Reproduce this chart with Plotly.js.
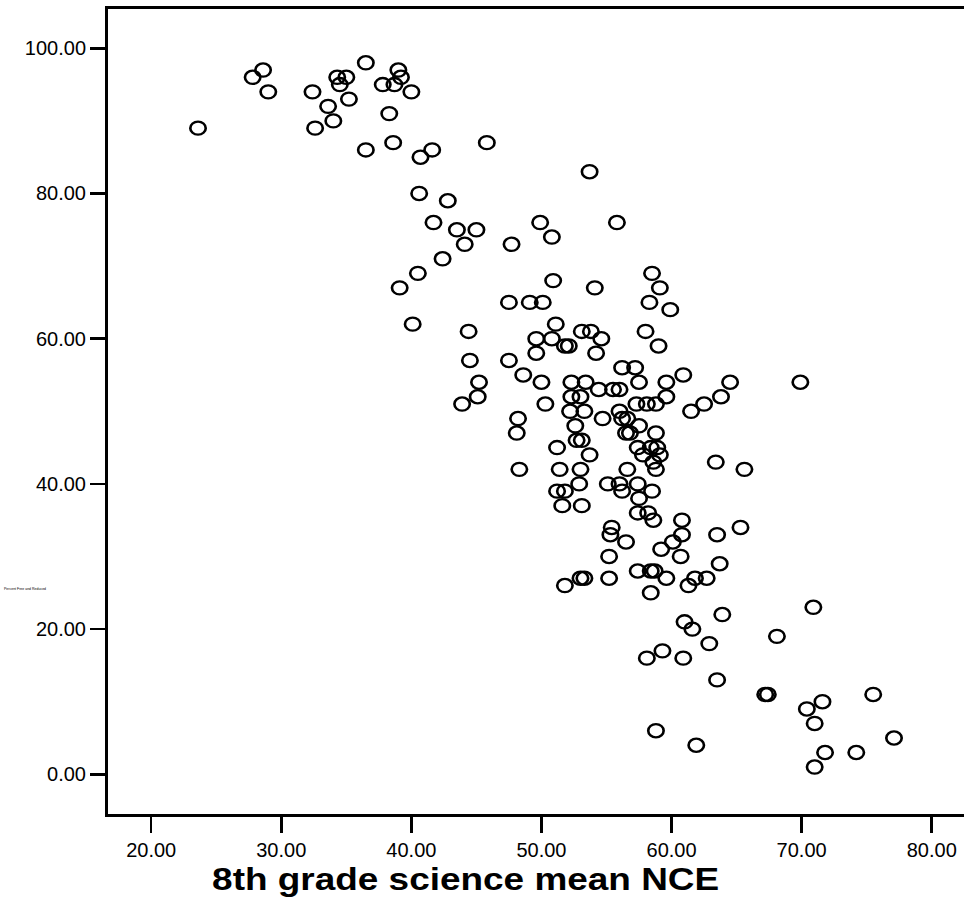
<!DOCTYPE html>
<html>
<head>
<meta charset="utf-8">
<script src="https://cdn.plot.ly/plotly-3.0.1.min.js"></script>
<style>html,body{margin:0;padding:0;background:#fff;}#chart{width:964px;height:899px;}</style>
</head>
<body>
<div id="chart"></div>
<script>
// 8th grade science mean NCE (x) vs Percent Free and Reduced (y)
const scienceNCE = [
23.6,27.8,28.6,29.0,32.4,32.6,33.6,34.0,34.3,34.5,35.0,35.2,36.5,36.5,37.8,38.3,38.6,38.7,39.0,39.2,
40.0,40.7,41.6,40.6,42.8,41.7,43.5,45.0,44.1,45.8,49.9,50.8,47.7,42.4,40.5,39.1,40.1,44.4,44.5,45.2,
45.1,43.9,47.5,49.1,50.1,50.9,47.5,48.6,49.6,49.6,50.8,50.0,50.3,48.2,48.1,51.1,54.1,58.5,59.1,58.3,
59.9,58.0,59.0,51.8,52.1,53.1,53.8,54.6,54.2,48.3,56.2,57.2,60.9,52.3,53.4,57.5,59.6,64.5,69.9,54.4,
55.5,56.0,52.3,53.0,59.6,63.8,52.2,53.3,57.3,58.1,58.8,62.5,61.5,56.0,54.7,56.2,56.6,52.6,57.5,56.5,
56.8,58.8,52.7,53.1,51.2,57.4,58.4,58.9,53.7,57.8,59.1,58.6,63.4,51.4,53.0,56.6,58.8,65.6,52.9,55.1,
56.0,57.4,51.2,51.8,56.2,58.5,57.5,51.6,53.1,57.4,58.2,58.6,60.8,55.4,55.3,65.3,60.8,63.5,56.5,60.1,
59.2,55.2,60.7,63.7,57.4,58.4,58.7,53.0,53.3,55.2,59.6,61.8,62.7,51.8,61.3,58.4,63.9,61.0,61.6,68.1,
62.9,59.3,58.1,60.9,63.5,67.2,67.4,70.9,75.5,71.6,70.4,71.0,58.8,77.1,61.9,71.8,74.2,71.0,53.7,55.8
];
const pctFreeReduced = [
89,96,97,94,94,89,92,90,96,95,96,93,98,86,95,91,87,95,97,96,
94,85,86,80,79,76,75,75,73,87,76,74,73,71,69,67,62,61,57,54,
52,51,65,65,65,68,57,55,60,58,60,54,51,49,47,62,67,69,67,65,
64,61,59,59,59,61,61,60,58,42,56,56,55,54,54,54,54,54,54,53,
53,53,52,52,52,52,50,50,51,51,51,51,50,50,49,49,49,48,48,47,
47,47,46,46,45,45,45,45,44,44,44,43,43,42,42,42,42,42,40,40,
40,40,39,39,39,39,38,37,37,36,36,35,35,34,33,34,33,33,32,32,
31,30,30,29,28,28,28,27,27,27,27,27,27,26,26,25,22,21,20,19,
18,17,16,16,13,11,11,23,11,10,9,7,6,5,4,3,3,1,83,76
];
const xTickVals = [20,30,40,50,60,70,80];
const xTickText = ["20.00","30.00","40.00","50.00","60.00","70.00","80.00"];
const yTickVals = [0,20,40,60,80,100];
const yTickText = ["0.00","20.00","40.00","60.00","80.00","100.00"];
const xTitle = "8th grade science mean NCE";
const yTitle = "Percent Free and Reduced";

const trace = {
  type: "scatter",
  mode: "markers",
  x: scienceNCE,
  y: pctFreeReduced,
  marker: {symbol: "circle-open", size: 14, color: "#000", line: {color: "#000", width: 2.4}},
  hoverinfo: "x+y"
};

const layout = {
  width: 964, height: 899,
  margin: {l: 108, r: 0, t: 9, b: 85, pad: 0},
  paper_bgcolor: "#fff", plot_bgcolor: "#fff",
  showlegend: false,
  font: {family: "Liberation Sans, Arial, sans-serif", color: "#000"},
  xaxis: {
    range: [16.68, 82.48], tickvals: xTickVals, ticktext: xTickText,
    showgrid: false, zeroline: false, showline: true, mirror: true,
    linecolor: "#000", linewidth: 3, ticks: "outside", ticklen: 16, tickwidth: 2.5, tickcolor: "#000",
    tickfont: {size: 20, family: "Liberation Sans, Arial, sans-serif", color: "#000"}
  },
  yaxis: {
    range: [-5.47, 105.41], tickvals: yTickVals, ticktext: yTickText,
    showgrid: false, zeroline: false, showline: true,
    linecolor: "#000", linewidth: 3, ticks: "outside", ticklen: 15, tickwidth: 2.5, tickcolor: "#000",
    tickfont: {size: 20, family: "Liberation Sans, Arial, sans-serif", color: "#000"}
  },
  annotations: [
    {text: "<b>" + xTitle + "</b>", xref: "paper", yref: "paper", x: 0.418, y: -0.081,
     xanchor: "center", yanchor: "middle", showarrow: false,
     font: {size: 32, family: "Liberation Sans, Arial, sans-serif", color: "#000"}},
    {text: yTitle, xref: "paper", yref: "paper", x: -0.097, y: 0.279,
     xanchor: "center", yanchor: "middle", showarrow: false,
     font: {size: 3.5, family: "Liberation Sans, Arial, sans-serif", color: "#000"}}
  ]
};

Plotly.newPlot("chart", [trace], layout, {displayModeBar: false, staticPlot: true}).then(function (gd) {
  // the reference's title is drawn slightly wider than plain Arial Bold
  const ann = gd.querySelectorAll("g.annotation")[0];
  if (ann) {
    const t = ann.querySelector("text");
    if (t) {
      const bb = t.getBBox();
      const cx = bb.x + bb.width / 2;
      const prev = t.getAttribute("transform") || "";
      t.setAttribute("transform", prev + " translate(" + cx + ",0) scale(1.155,1) translate(" + (-cx) + ",0)");
    }
  }
  // the reference's open circles are slightly wider than tall
  gd.querySelectorAll("g.points path.point").forEach(function (p) {
    const prev = p.getAttribute("transform") || "";
    p.setAttribute("transform", prev + " scale(1.1,0.94)");
  });
});
</script>
</body>
</html>
